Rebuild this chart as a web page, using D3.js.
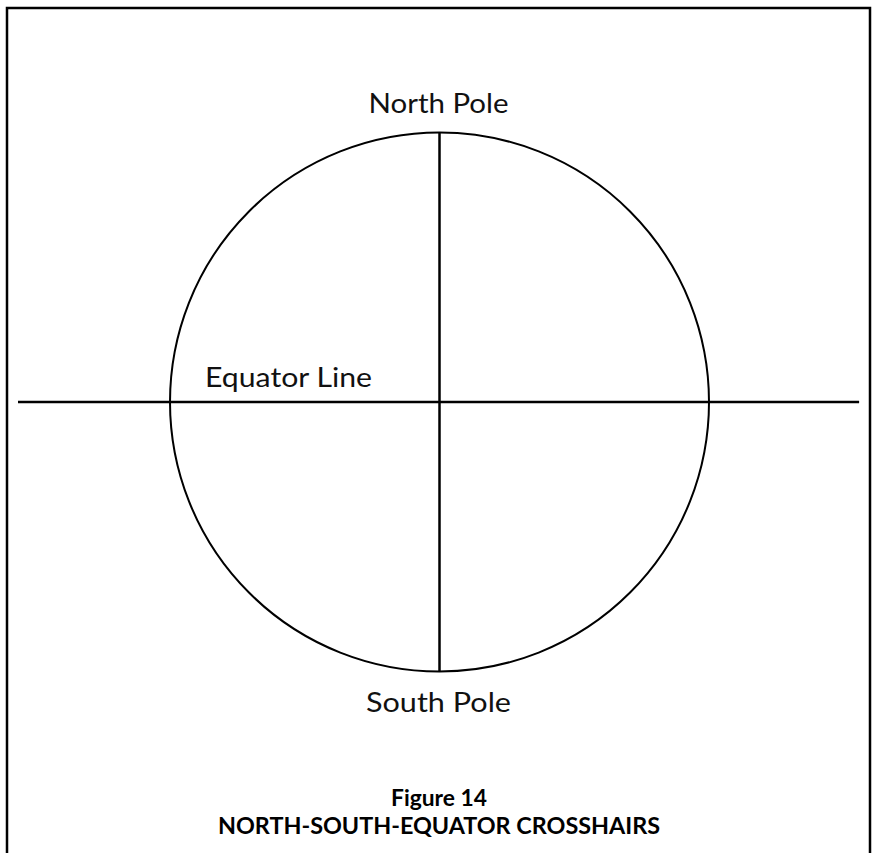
<!DOCTYPE html>
<html>
<head>
<meta charset="utf-8">
<script src="https://cdn.jsdelivr.net/npm/d3@7"></script>
<style>
html,body{margin:0;padding:0;background:#fff;}
svg{display:block;}
</style>
</head>
<body>
<svg id="chart" width="875" height="853"></svg>
<script>
// Data
const axisLabels = ["North Pole", "South Pole"];
const equatorLabels = ["Equator Line"];
const captionLines = ["Figure 14", "NORTH-SOUTH-EQUATOR CROSSHAIRS"];
const crossExtent = [-1.564, 1.557]; // equator line extent in units of globe radius
const poleExtent = [-1, 1];

const svg = d3.select("#chart");
const W = 875, H = 853;
const cx = 439.5, cy = 402, R = 269.5;

const x = d3.scaleLinear().domain([-1, 1]).range([cx - R, cx + R]);
const y = d3.scaleLinear().domain([-1, 1]).range([cy + R, cy - R]);

// Frame (open at bottom)
svg.append("path")
  .attr("d", `M7,${H} L7,8 L870,8 L870,${H}`)
  .attr("fill", "none").attr("stroke", "#000").attr("stroke-width", 2.5);

// Globe
svg.append("circle")
  .attr("cx", x(0)).attr("cy", y(0)).attr("r", x(1) - x(0))
  .attr("fill", "none").attr("stroke", "#000").attr("stroke-width", 2);

// Equator line
svg.append("line")
  .attr("x1", x(crossExtent[0])).attr("x2", x(crossExtent[1]))
  .attr("y1", y(0)).attr("y2", y(0))
  .attr("stroke", "#000").attr("stroke-width", 2.5);

// Polar axis
svg.append("line")
  .attr("x1", x(0)).attr("x2", x(0))
  .attr("y1", y(poleExtent[1])).attr("y2", y(poleExtent[0]))
  .attr("stroke", "#000").attr("stroke-width", 2.5);

const labelFont = "Lato, 'Open Sans', sans-serif";

// Pole labels
svg.selectAll("text.pole").data(axisLabels).join("text")
  .attr("class", "pole")
  .attr("x", x(0) - 1)
  .attr("y", (d, i) => i === 0 ? y(1) - 20 : y(-1) + 40)
  .attr("text-anchor", "middle")
  .attr("font-family", labelFont)
  .attr("font-size", 26)
  .attr("fill", "#111")
  .attr("textLength", (d, i) => i === 0 ? 140 : 145)
  .attr("lengthAdjust", "spacingAndGlyphs")
  .text(d => d);

// Equator label
svg.selectAll("text.eq").data(equatorLabels).join("text")
  .attr("class", "eq")
  .attr("x", 205)
  .attr("y", y(0) - 15)
  .attr("font-family", labelFont)
  .attr("font-size", 26)
  .attr("fill", "#111")
  .attr("textLength", 167)
  .attr("lengthAdjust", "spacingAndGlyphs")
  .text(d => d);

// Caption
svg.selectAll("text.cap").data(captionLines).join("text")
  .attr("class", "cap")
  .attr("x", 439)
  .attr("y", (d, i) => 806 + i * 28)
  .attr("text-anchor", "middle")
  .attr("font-family", labelFont)
  .attr("font-weight", "bold")
  .attr("font-size", (d, i) => i === 0 ? 22 : 23)
  .attr("fill", "#000")
  .attr("textLength", (d, i) => i === 0 ? 96 : 442)
  .attr("lengthAdjust", "spacingAndGlyphs")
  .text(d => d);
</script>
</body>
</html>
